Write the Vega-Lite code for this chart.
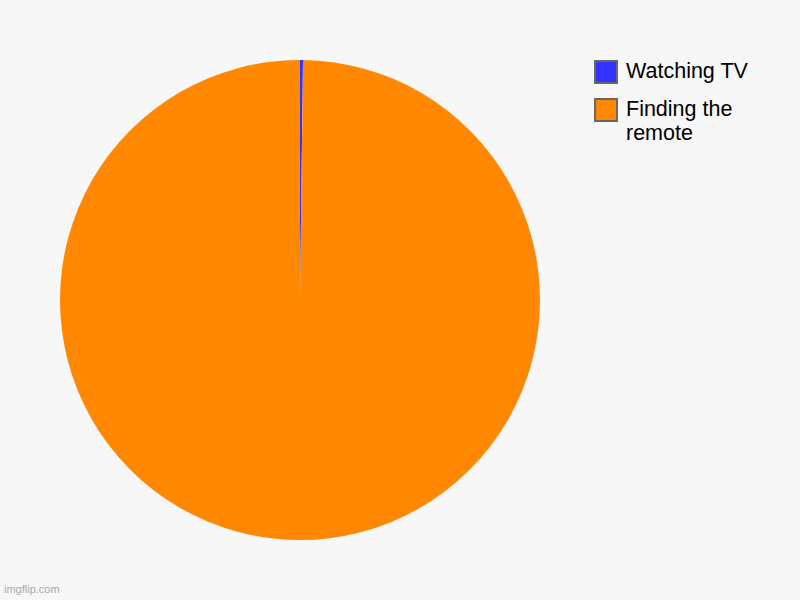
{
  "$schema": "https://vega.github.io/schema/vega-lite/v6.json",
  "autosize": {"type": "none"},
  "width": 600,
  "height": 600,
  "padding": {"left": 0, "top": 0, "right": 200, "bottom": 0},
  "background": "#f7f7f7",
  "config": {
    "view": {"stroke": null},
    "font": "Liberation Sans"
  },
  "title": {
    "text": "imgflip.com",
    "orient": "bottom",
    "anchor": "start",
    "offset": -16,
    "dx": 4,
    "fontSize": 11,
    "fontWeight": "normal",
    "color": "#a8a8a8",
    "font": "Liberation Sans"
  },
  "data": {
    "values": [
      {"activity": "Watching TV", "share": 0.2, "idx": 1},
      {"activity": "Finding the remote", "share": 99.8, "idx": 2}
    ]
  },
  "mark": {"type": "arc", "outerRadius": 240},
  "encoding": {
    "theta": {"field": "share", "type": "quantitative", "stack": true},
    "order": {"field": "idx", "type": "quantitative"},
    "color": {
      "field": "activity",
      "type": "nominal",
      "scale": {
        "domain": ["Watching TV", "Finding the remote"],
        "range": ["#3333ff", "#ff8800"]
      },
      "legend": {
        "title": null,
        "orient": "none",
        "legendX": 594,
        "legendY": 60,
        "symbolType": "square",
        "symbolSize": 480,
        "symbolStrokeColor": "#666666",
        "symbolStrokeWidth": 2,
        "symbolOpacity": 1,
        "labelFontSize": 21.5,
        "labelLineHeight": 24,
        "labelColor": "#000000",
        "labelFont": "Liberation Sans",
        "labelLimit": 200,
        "labelOffset": 8,
        "rowPadding": 8,
        "labelExpr": "datum.label == 'Finding the remote' ? ['Finding the', 'remote'] : datum.label"
      }
    }
  }
}
